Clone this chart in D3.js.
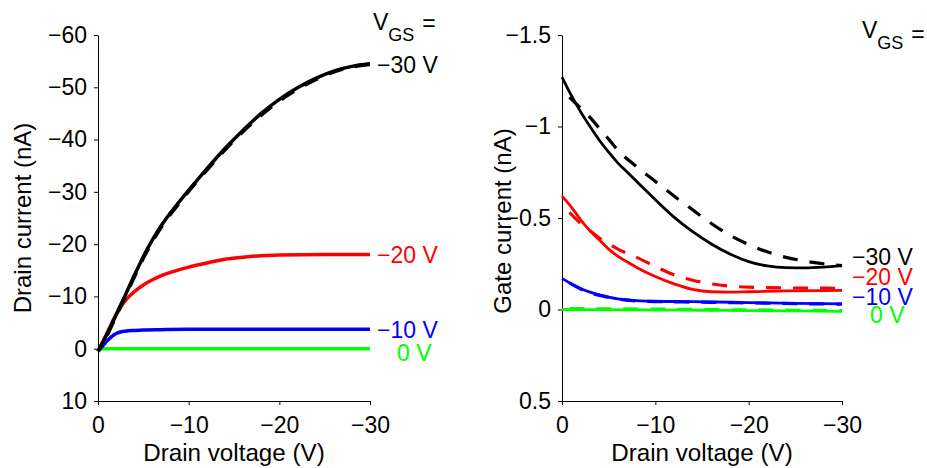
<!DOCTYPE html>
<html>
<head>
<meta charset="utf-8">
<script src="https://cdn.jsdelivr.net/npm/d3@7"></script>
<style>
  body { margin: 0; background: #fff; }
  svg { display: block; }
</style>
</head>
<body>
<div id="svg-wrapper"></div>
<script>
// les valeurs (V en volts, I en nA)
var vgsLabels = ["\u221230 V", "\u221220 V", "\u221210 V", "0 V"];
var vdTicks = [0, -10, -20, -30];
var idTicks = [-60, -50, -40, -30, -20, -10, 0, 10];
var igTicks = [-1.5, -1, -0.5, 0, 0.5];

// panneau gauche : courant de drain
var vdId30 = [0, -1, -2, -3, -4, -5, -6, -7, -8, -9, -10, -12, -14, -16, -18, -20, -22, -24, -26, -28, -30];
var id30   = [0.5, -2.8, -6.5, -10.2, -14, -17.6, -20.8, -23.6, -26, -28.2, -30.3, -34.4, -38.3, -41.8, -45, -47.7, -49.9, -51.7, -53.1, -54, -54.5];
var vdId30m = [-1, -3, -5, -7, -9, -12, -15, -18, -21, -24, -27, -30];
var id30m   = [-2.6, -10, -17.4, -23.4, -28, -34.2, -39.9, -44.7, -48.6, -51.5, -53.5, -54.4];
var vdId20 = [0, -1, -2, -3, -4, -5, -6, -7, -8, -10, -12, -14, -16, -18, -20, -25, -30];
var id20   = [0.5, -3, -6.5, -9.2, -10.9, -12.2, -13.2, -14, -14.6, -15.6, -16.4, -17.1, -17.5, -17.8, -17.9, -18, -18];
var vdId10 = [0, -0.5, -1, -1.5, -2, -2.5, -3, -4, -5, -7, -10, -20, -30];
var id10   = [0.5, -0.5, -1.5, -2.3, -2.9, -3.2, -3.35, -3.5, -3.6, -3.65, -3.7, -3.7, -3.7];
var vdId0  = [0, -10, -20, -30];
var id0    = [0, 0, 0, 0];

// panneau droit : courant de grille (trait plein = mesure, tirets = modèle)
var vdIg30 = [0, -1, -2, -3, -4, -5, -6, -7, -8, -10, -12, -14, -16, -18, -20, -22, -24, -26, -28, -30];
var ig30   = [-1.27, -1.17, -1.08, -1.0, -0.925, -0.86, -0.80, -0.75, -0.70, -0.60, -0.505, -0.425, -0.358, -0.303, -0.262, -0.238, -0.229, -0.228, -0.232, -0.24];
var vdIg30m = [-0.8, -2, -3, -4, -5, -6, -8, -10, -12, -14, -16, -18, -20, -22, -24, -26, -28, -30];
var ig30m   = [-1.16, -1.10, -1.05, -0.99, -0.93, -0.87, -0.78, -0.70, -0.62, -0.545, -0.47, -0.405, -0.355, -0.315, -0.285, -0.265, -0.25, -0.24];
var vdIg20 = [0, -1, -2, -3, -4, -5, -6, -7, -8, -10, -12, -14, -16, -18, -20, -24, -30];
var ig20   = [-0.62, -0.56, -0.49, -0.43, -0.38, -0.33, -0.29, -0.26, -0.23, -0.18, -0.14, -0.11, -0.097, -0.095, -0.097, -0.102, -0.104];
var vdIg20m = [-0.8, -2, -3, -4, -5, -6, -8, -10, -12, -14, -16, -18, -20, -22, -24, -26, -28, -30];
var ig20m   = [-0.53, -0.47, -0.43, -0.39, -0.36, -0.33, -0.285, -0.235, -0.19, -0.16, -0.14, -0.128, -0.122, -0.12, -0.118, -0.117, -0.117, -0.115];
var vdIg10 = [0, -1, -2, -3, -4, -5, -6, -7, -8, -10, -14, -20, -25, -30];
var ig10   = [-0.17, -0.14, -0.115, -0.095, -0.08, -0.068, -0.058, -0.052, -0.048, -0.045, -0.043, -0.038, -0.034, -0.031];
var vdIg10m = [-0.8, -2, -3, -4, -6, -8, -10, -15, -20, -25, -30];
var ig10m   = [-0.145, -0.112, -0.09, -0.077, -0.057, -0.047, -0.043, -0.04, -0.036, -0.032, -0.029];
var vdIg0  = [0, -5, -10, -15, -20, -25, -30];
var ig0    = [0, 0.001, 0.003, 0.004, 0.006, 0.008, 0.01];
var vdIg0m = [-0.8, -10, -20, -30];
var ig0m   = [-0.005, -0.002, 0.002, 0.006];

var couleurs = ["#000000", "#ff0000", "#0000ff", "#00ff00"];
var police = "'Liberation Sans', Arial, sans-serif";

var width = 927,
    height = 468;

var svg = d3.select("#svg-wrapper")
    .append("svg")
    .attr("width", width)
    .attr("height", height)
    .attr("font-family", police);

// signe moins typographique
function moins(d) {
    if (d === 0) return "0";
    return (d < 0 ? "\u2212" : "") + Math.abs(d);
}

function zip(xs, ys) {
    return xs.map(function (v, i) { return [v, ys[i]]; });
}

function drawPanel(p) {
    var g = svg.append("g");

    var x = d3.scaleLinear().domain([0, -30]).range([p.x0, p.x1]);
    var y = d3.scaleLinear().domain(p.yDomain).range([401, 35]);

    var xAxis = g.append("g")
        .attr("transform", "translate(0,401)")
        .call(d3.axisBottom(x).tickValues(vdTicks).tickSize(4).tickSizeOuter(0)
            .tickPadding(12).tickFormat(moins));

    var yAxis = g.append("g")
        .attr("transform", "translate(" + p.x0 + ",0)")
        .call(d3.axisLeft(y).tickValues(p.yTicks).tickSize(4).tickSizeOuter(0)
            .tickPadding(7).tickFormat(moins));

    [xAxis, yAxis].forEach(function (a) {
        a.attr("font-family", police).attr("font-size", 23);
        a.selectAll("text").attr("fill", "#000");
        a.selectAll("path, line").attr("stroke", "#000");
    });

    // titres des axes
    g.append("text")
        .attr("x", (p.x0 + p.x1) / 2)
        .attr("y", 461)
        .attr("text-anchor", "middle")
        .attr("font-size", 24.2)
        .text("Drain voltage (V)");

    g.append("text")
        .attr("transform", "translate(" + p.titleX + "," + p.titleY + ") rotate(-90)")
        .attr("text-anchor", "middle")
        .attr("font-size", 24)
        .text(p.yTitle);

    var line = d3.line()
        .x(function (d) { return x(d[0]); })
        .y(function (d) { return y(d[1]); })
        .curve(d3.curveMonotoneX);

    p.curves.forEach(function (c) {
        g.append("path")
            .datum(zip(c.vd, c.i))
            .attr("d", line)
            .attr("fill", "none")
            .attr("stroke", couleurs[c.k])
            .attr("stroke-width", c.dash ? p.lw + 0.4 : p.lw)
            .attr("stroke-linejoin", "round")
            .attr("stroke-dasharray", c.dash ? "15,12" : null);
    });

    // étiquettes V_GS au bout des courbes
    p.ends.forEach(function (e, k) {
        g.append("text")
            .attr("x", p.x1 + p.labelDx[k])
            .attr("y", y(e) + p.labelDy[k])
            .attr("dy", "0.36em")
            .attr("font-size", 23)
            .attr("fill", couleurs[k])
            .text(vgsLabels[k]);
    });

    // "V_GS ="
    var t = g.append("text")
        .attr("x", p.vgsX)
        .attr("y", p.vgsY)
        .attr("font-size", 23);
    t.append("tspan").text("V");
    t.append("tspan").attr("dy", 11).attr("font-size", 18).text("GS");
    t.append("tspan").attr("dy", p.eqDy).attr("dx", 8).text("=");
}

drawPanel({
    x0: 98, x1: 370,
    yDomain: [10, -60], yTicks: idTicks,
    yTitle: "Drain current (nA)", titleX: 31, titleY: 218,
    lw: 3.5,
    curves: [
        { vd: vdId0, i: id0, k: 3 },
        { vd: vdId10, i: id10, k: 2 },
        { vd: vdId20, i: id20, k: 1 },
        { vd: vdId30m, i: id30m, k: 0, dash: true },
        { vd: vdId30, i: id30, k: 0 }
    ],
    ends: [id30[id30.length - 1], id20[id20.length - 1], id10[id10.length - 1], id0[id0.length - 1]],
    labelDx: [7, 7, 7, 27],
    labelDy: [1, 0, 0, 4],
    vgsX: 373, vgsY: 30, eqDy: -10
});

drawPanel({
    x0: 562, x1: 842,
    yDomain: [0.5, -1.5], yTicks: igTicks,
    yTitle: "Gate current (nA)", titleX: 511, titleY: 221,
    lw: 2.8,
    curves: [
        { vd: vdIg0, i: ig0, k: 3 },
        { vd: vdIg0m, i: ig0m, k: 3, dash: true },
        { vd: vdIg10, i: ig10, k: 2 },
        { vd: vdIg10m, i: ig10m, k: 2, dash: true },
        { vd: vdIg20, i: ig20, k: 1 },
        { vd: vdIg20m, i: ig20m, k: 1, dash: true },
        { vd: vdIg30, i: ig30, k: 0 },
        { vd: vdIg30m, i: ig30m, k: 0, dash: true }
    ],
    ends: [ig30[ig30.length - 1], ig20[ig20.length - 1], ig10[ig10.length - 1], ig0[ig0.length - 1]],
    labelDx: [10, 10, 10, 28],
    labelDy: [-9, -14, -7, 3],
    vgsX: 862, vgsY: 38, eqDy: -7
});
</script>
</body>
</html>
